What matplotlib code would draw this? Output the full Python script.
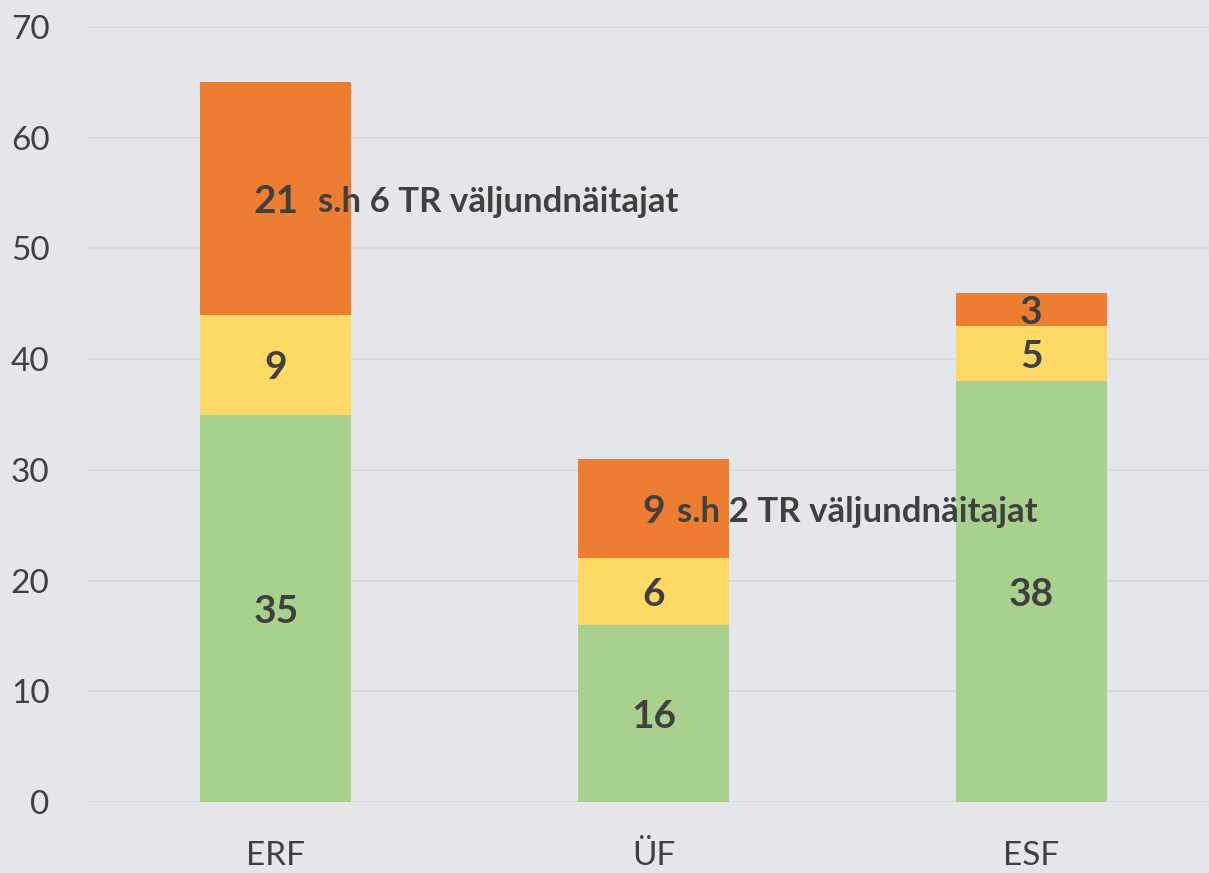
import numpy as np
import matplotlib.pyplot as plt

# data
categories = ['ERF', 'ÜF', 'ESF']
green_vals = [35, 16, 38]
yellow_vals = [9, 6, 5]
orange_vals = [21, 9, 3]
notes = ['s.h 6 TR väljundnäitajat', 's.h 2 TR väljundnäitajat', '']
yticks = [0, 10, 20, 30, 40, 50, 60, 70]

bg = '#e4e6e9'
txt = '#404040'
colors = ['#a9d18e', '#ffd966', '#ed7d31']

plt.rcParams['font.family'] = ['Lato', 'DejaVu Sans']

fig = plt.figure(figsize=(12.09, 8.73), dpi=100, facecolor=bg)
ax = fig.add_axes([0.072, 0.0813, 0.928, 0.8877], facecolor=bg)

x = np.arange(len(categories))
width = 0.4
bottom = np.zeros(len(categories))
for vals, c in zip([green_vals, yellow_vals, orange_vals], colors):
    vals = np.array(vals, dtype=float)
    ax.bar(x, vals, width, bottom=bottom, color=c, zorder=2)
    for i in range(len(x)):
        ax.text(x[i], bottom[i] + vals[i] / 2, '%d' % vals[i], ha='center',
                va='center_baseline', fontsize=28, fontweight='bold', color=txt, zorder=3)
    bottom += vals

# notes next to the orange segment
green = np.array(green_vals)
yellow = np.array(yellow_vals)
orange = np.array(orange_vals)
offsets = [30, 17, 0]
for i in range(len(x)):
    if notes[i]:
        ax.annotate(notes[i], (x[i], green[i] + yellow[i] + orange[i] / 2),
                    xytext=(offsets[i], 0), textcoords='offset points',
                    ha='left', va='center_baseline', fontsize=25, fontweight='bold',
                    color=txt, zorder=3)

ax.set_xlim(-0.5, 2.47)
ax.set_ylim(0, 70)
ax.set_yticks(yticks)
ax.set_xticks(x)
ax.set_xticklabels(categories)
ax.tick_params(axis='both', length=0, labelsize=24, labelcolor=txt)
ax.tick_params(axis='y', pad=27)
ax.tick_params(axis='x', pad=28)
ax.grid(axis='y', color='#d6d7d9', linewidth=1.2, zorder=0)
ax.set_axisbelow(True)
for s in ax.spines.values():
    s.set_visible(False)

plt.savefig('out.png', dpi=100, facecolor=bg)
